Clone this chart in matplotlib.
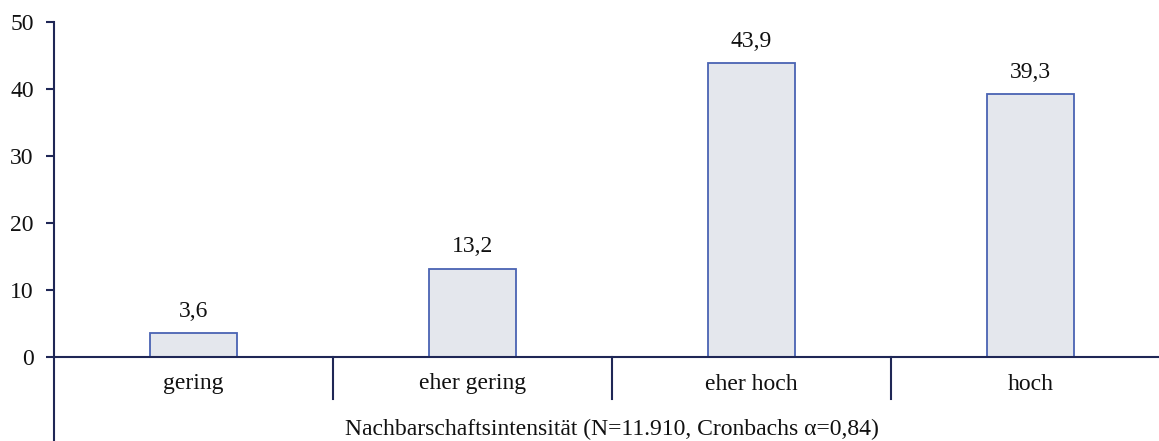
import matplotlib
matplotlib.use("Agg")
import matplotlib.pyplot as plt

categories = ["gering", "eher gering", "eher hoch", "hoch"]
values = [3.6, 13.2, 43.9, 39.3]
value_labels = ["3,6", "13,2", "43,9", "39,3"]
yticks = [0, 10, 20, 30, 40, 50]
xlabel = "Nachbarschaftsintensität (N=11.910, Cronbachs α=0,84)"

plt.rcParams['font.family'] = ['Liberation Serif', 'DejaVu Serif']
W, H = 1159, 441
fig = plt.figure(figsize=(W/100, H/100), dpi=100)
px_per_unit = (357 - 22) / 50.0
ymin = -(441 - 357) / px_per_unit
ax = fig.add_axes([54/W, 0, 1 - 54/W, (441-22)/H])
ax.set_ylim(ymin, 50)
cat_w = 279.0
ax.set_xlim(-0.5, -0.5 + (W - 54) / cat_w)

FS = 17
navy = "#1f2756"
x = list(range(len(categories)))
ax.bar(x, values, width=0.31, color="#e4e7ed", edgecolor="#4a63b3", linewidth=1.3, zorder=3)
for xi, v, lab in zip(x, values, value_labels):
    ax.annotate(lab, (xi, v), xytext=(0, 8), textcoords="offset points",
                ha="center", va="bottom", fontsize=FS, color="#111111")

for s in ["top", "right", "bottom"]:
    ax.spines[s].set_visible(False)
ax.spines["left"].set_color(navy)
ax.spines["left"].set_linewidth(1.5)
ax.axhline(0, color=navy, linewidth=1.5, zorder=4)

sep_bottom = -(399 - 357) / px_per_unit
for b in [0.5, 1.5, 2.5]:
    ax.plot([b, b], [0, sep_bottom], color=navy, linewidth=1.5, clip_on=False)

ax.set_yticks(yticks)
ax.set_yticklabels([str(t) for t in yticks], fontsize=FS, color="#111111")
ax.tick_params(axis="y", direction="out", length=6, width=1.5, color=navy, pad=8.5)
ax.set_xticks([])

label_y = -(384 - 357) / px_per_unit
for xi, c in zip(x, categories):
    ax.text(xi, label_y, c, ha="center", va="center", fontsize=FS, color="#111111")
ax.text((612 - 54) / cat_w - 0.5, -(429 - 357) / px_per_unit, xlabel,
        ha="center", va="center", fontsize=FS, color="#111111")

fig.savefig("out.png", dpi=100)
